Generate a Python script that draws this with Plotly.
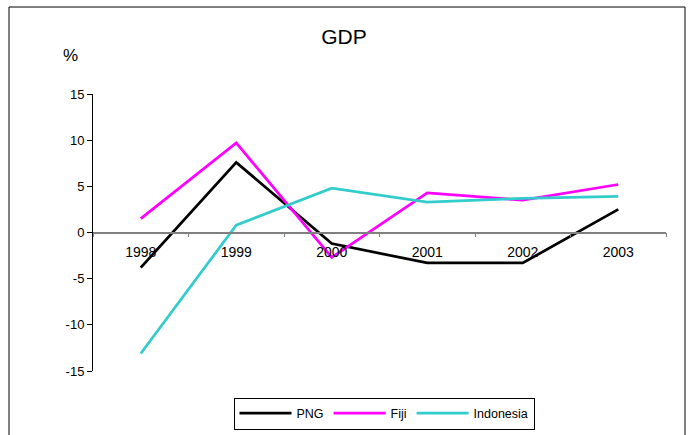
import plotly.graph_objects as go

years = ["1998", "1999", "2000", "2001", "2002", "2003"]
png = [-3.8, 7.6, -1.2, -3.3, -3.3, 2.5]
fiji = [1.5, 9.7, -2.7, 4.3, 3.5, 5.2]
indonesia = [-13.1, 0.8, 4.8, 3.3, 3.7, 3.9]
y_ticks = [-15, -10, -5, 0, 5, 10, 15]
y_labels = ["-15", "-10", "-5", "0", "5", "10", "15"]

fig = go.Figure()
for name, vals, col in [("PNG", png, "#000000"), ("Fiji", fiji, "#FF00FF"), ("Indonesia", indonesia, "#33CCCC")]:
    fig.add_trace(go.Scatter(x=years, y=vals, mode="lines", name=name,
                             line=dict(color=col, width=2.75)))

fig.update_layout(
    width=688, height=435,
    margin=dict(l=93, r=22, t=94, b=64, autoexpand=False),
    paper_bgcolor="white", plot_bgcolor="white",
    font=dict(family="Liberation Sans, Arial, sans-serif", size=13, color="black"),
    title=dict(text="GDP", x=0.5, xanchor="center", y=1 - 37/435, yanchor="middle",
               font=dict(size=21)),
    xaxis=dict(type="category", range=[-0.5, 5.5], anchor="free", position=0.5,
               showline=True, linecolor="#808080", linewidth=1.5,
               ticks="outside", tickson="boundaries", ticklen=4, tickcolor="#808080",
               showgrid=False, zeroline=False, tickfont=dict(size=14),
               ticklabelstandoff=7),
    yaxis=dict(range=[-15, 15], tickvals=y_ticks, ticktext=y_labels, showline=True,
               linecolor="black", linewidth=1, ticks="outside", ticklen=5,
               tickcolor="black", showgrid=False, zeroline=False,
               tickfont=dict(size=13)),
    legend=dict(orientation="h", x=384/688, xanchor="center", xref="container",
                y=(435-413.5)/435, yanchor="middle", yref="container",
                bordercolor="black", borderwidth=1, font=dict(size=12.5),
                itemwidth=52, tracegroupgap=0),
    showlegend=True,
)
fig.add_annotation(text="%", xref="paper", yref="paper", x=(70-93)/573, y=(371-55)/277,
                   showarrow=False, font=dict(size=17), xanchor="center", yanchor="middle")
fig.add_shape(type="rect", xref="paper", yref="paper",
              x0=(9-93)/573, x1=(685-93)/573, y0=(371-445)/277, y1=(371-7)/277,
              line=dict(color="black", width=1), fillcolor="rgba(0,0,0,0)", layer="below")
fig.write_html("out.html")
